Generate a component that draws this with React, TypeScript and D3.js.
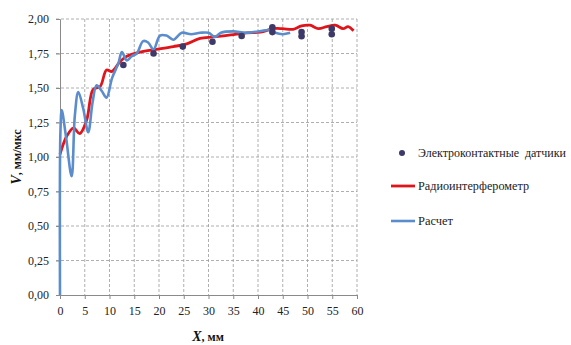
import * as d3 from 'd3';
import React, { useEffect, useRef } from 'react';

// Расчет (blue)
const calcX = [0, 0.1, 0.35, 1.2, 2.35, 3.0, 3.7, 4.7, 5.7, 6.6, 7.4, 8.4, 9.4, 10.5, 11.8, 12.5, 13.5, 14.5, 15.5, 16.8, 17.8, 18.9, 20.2, 21.5, 22.9, 24.6, 26.5, 28.3, 30, 31.3, 32.5, 35, 37.5, 40, 42.4, 43.5, 45, 46.5];
const calcV = [0, 1.2, 1.34, 1.15, 0.86, 1.3, 1.47, 1.35, 1.18, 1.4, 1.52, 1.48, 1.43, 1.57, 1.68, 1.76, 1.70, 1.73, 1.75, 1.84, 1.83, 1.78, 1.88, 1.88, 1.85, 1.90, 1.89, 1.90, 1.90, 1.87, 1.90, 1.91, 1.90, 1.91, 1.92, 1.90, 1.89, 1.90];

// Радиоинтерферометр (red)
const radioX = [0, 1.35, 2.7, 4.0, 5.4, 6.7, 8.1, 9.4, 10.5, 12.1, 13.5, 16.2, 19.5, 22.9, 25.6, 28.3, 31, 34.5, 37.7, 40.5, 43.1, 45, 47.1, 48.8, 50.5, 52.2, 53.9, 55.6, 57.2, 58.2, 59.3];
const radioV = [1.02, 1.15, 1.21, 1.17, 1.27, 1.49, 1.51, 1.63, 1.62, 1.69, 1.73, 1.76, 1.78, 1.80, 1.82, 1.86, 1.87, 1.885, 1.90, 1.905, 1.93, 1.93, 1.925, 1.95, 1.955, 1.93, 1.945, 1.955, 1.93, 1.945, 1.915];

// Электроконтактные датчики (points)
const sensorX = [12.8, 18.9, 24.8, 30.8, 36.7, 42.9, 42.9, 48.8, 48.8, 54.9, 54.9];
const sensorV = [1.667, 1.75, 1.80, 1.835, 1.877, 1.94, 1.905, 1.905, 1.875, 1.93, 1.89];

const xTicks = [0, 5, 10, 15, 20, 25, 30, 35, 40, 45, 50, 55, 60];
const yTicks = [0, 0.25, 0.5, 0.75, 1, 1.25, 1.5, 1.75, 2];

const legendItems = ['Электроконтактные  датчики', 'Радиоинтерферометр', 'Расчет'];

export default function App() {
    const svgRef = useRef<SVGSVGElement>(null);

    const width = 571;
    const height = 345;
    const red = '#e0151c';
    const blue = '#5b8dcc';
    const dot = '#3d3a6a';
    const font = 'Liberation Serif, Liberation Sans, sans-serif';

    useEffect(() => {
        const svg = d3.select(svgRef.current);
        svg.selectAll('*').remove();

        const x = d3.scaleLinear().domain([0, 60]).range([60, 357]);
        const y = d3.scaleLinear().domain([0, 2]).range([295, 19]);

        // grid
        svg.append('g')
            .selectAll('line')
            .data(yTicks.slice(1))
            .enter()
            .append('line')
            .attr('x1', x(0) - 4).attr('x2', x(60))
            .attr('y1', d => y(d)).attr('y2', d => y(d))
            .attr('stroke', '#9a9a9a').attr('stroke-width', 0.8)
            .attr('stroke-dasharray', '3,2');
        svg.append('g')
            .selectAll('line')
            .data(xTicks.slice(1))
            .enter()
            .append('line')
            .attr('x1', d => x(d)).attr('x2', d => x(d))
            .attr('y1', y(2)).attr('y2', y(0))
            .attr('stroke', '#9a9a9a').attr('stroke-width', 0.8)
            .attr('stroke-dasharray', '3,2');

        // x axis
        const xAxis = svg.append('g')
            .attr('transform', 'translate(0,' + y(0) + ')')
            .call(d3.axisBottom(x).tickValues(xTicks).tickSize(4).tickFormat(d3.format('d')));
        xAxis.select('.domain').attr('stroke', '#8a8a8a');
        xAxis.selectAll('line').attr('stroke', '#8a8a8a');
        xAxis.selectAll('text')
            .attr('y', 11)
            .style('font-family', font)
            .style('font-size', '12px')
            .attr('fill', '#222');

        // y axis
        const yAxis = svg.append('g')
            .attr('transform', 'translate(' + x(0) + ',0)')
            .call(d3.axisLeft(y).tickValues(yTicks).tickSize(4)
                .tickFormat(d => d3.format('.2f')(d as number).replace('.', ',')));
        yAxis.select('.domain').attr('stroke', '#8a8a8a');
        yAxis.selectAll('line').attr('stroke', '#8a8a8a');
        yAxis.selectAll('text')
            .attr('x', -11)
            .style('font-family', font)
            .style('font-size', '12px')
            .attr('fill', '#222');

        const line = d3.line<[number, number]>()
            .x(d => x(d[0]))
            .y(d => y(d[1]))
            .curve(d3.curveCatmullRom.alpha(0.5));

        svg.append('path')
            .attr('d', line(radioX.map((v, i) => [v, radioV[i]] as [number, number])))
            .attr('fill', 'none').attr('stroke', red).attr('stroke-width', 2.8);

        svg.append('path')
            .attr('d', line(calcX.map((v, i) => [v, calcV[i]] as [number, number])))
            .attr('fill', 'none').attr('stroke', blue).attr('stroke-width', 2.6);

        svg.append('g')
            .selectAll('circle')
            .data(sensorX)
            .enter()
            .append('circle')
            .attr('cx', d => x(d))
            .attr('cy', (d, i) => y(sensorV[i]))
            .attr('r', 3.3)
            .attr('fill', dot);

        // axis titles
        const xt = svg.append('text')
            .attr('x', 208).attr('y', 341)
            .attr('text-anchor', 'middle')
            .style('font-family', font).style('font-size', '12px').style('font-weight', 'bold')
            .attr('fill', '#111');
        xt.append('tspan').style('font-style', 'italic').style('font-size', '14px').text('X');
        xt.append('tspan').text(', мм');

        const yt = svg.append('text')
            .attr('transform', 'translate(21,157) rotate(-90)')
            .attr('text-anchor', 'middle')
            .style('font-family', font).style('font-size', '12px').style('font-weight', 'bold')
            .attr('fill', '#111');
        yt.append('tspan').style('font-style', 'italic').style('font-size', '14px').text('V');
        yt.append('tspan').text(', мм/мкс');

        // legend
        const legY = [153, 186, 221];
        const legW = [148, 111, 35];
        const leg = svg.append('g');
        leg.append('circle').attr('cx', 402).attr('cy', legY[0]).attr('r', 3).attr('fill', dot);
        leg.append('line').attr('x1', 391).attr('x2', 415).attr('y1', legY[1]).attr('y2', legY[1])
            .attr('stroke', red).attr('stroke-width', 2.8);
        leg.append('line').attr('x1', 391).attr('x2', 415).attr('y1', legY[2]).attr('y2', legY[2])
            .attr('stroke', blue).attr('stroke-width', 2.6);
        leg.selectAll('text')
            .data(legendItems)
            .enter()
            .append('text')
            .attr('x', 418)
            .attr('y', (d, i) => legY[i])
            .attr('dy', '0.35em')
            .attr('textLength', (d, i) => legW[i])
            .attr('lengthAdjust', 'spacingAndGlyphs')
            .style('font-family', font)
            .style('font-size', '12px')
            .attr('fill', '#222')
            .style('white-space', 'pre')
            .text(d => d);
    }, []);

    return (
        <svg ref={svgRef} width={width} height={height}
            style={{ position: 'absolute', left: 0, top: 0, background: '#fff' }}></svg>
    );
}
